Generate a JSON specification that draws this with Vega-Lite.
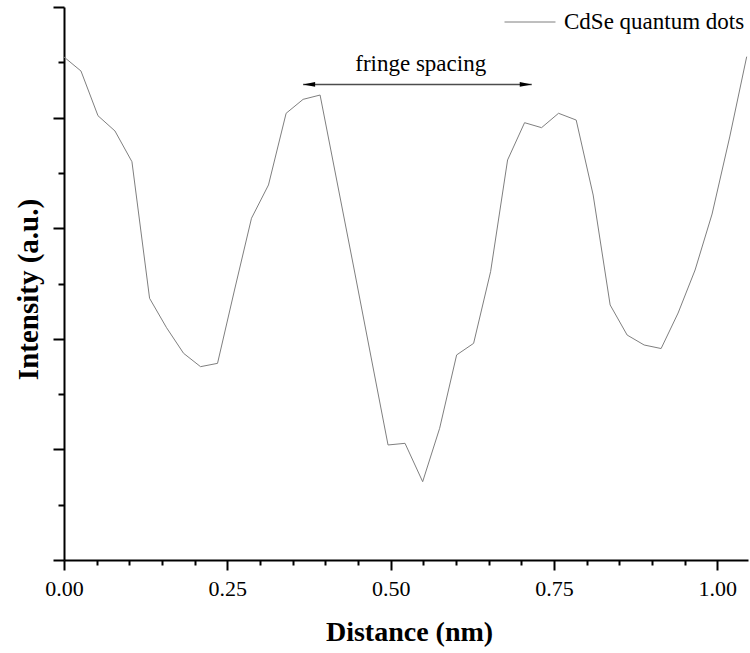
{
  "$schema": "https://vega.github.io/schema/vega-lite/v6.json",
  "width": 684,
  "height": 553,
  "autosize": {"type": "none"},
  "padding": {"left": 64, "top": 7, "right": 2, "bottom": 93},
  "background": "white",
  "config": {"view": {"stroke": null}, "font": "Liberation Serif"},
  "datasets": {
    "profile": [
      {"distance": 0.000, "intensity": 4.548, "series": "CdSe quantum dots"},
      {"distance": 0.026, "intensity": 4.421, "series": "CdSe quantum dots"},
      {"distance": 0.052, "intensity": 4.017, "series": "CdSe quantum dots"},
      {"distance": 0.078, "intensity": 3.879, "series": "CdSe quantum dots"},
      {"distance": 0.104, "intensity": 3.601, "series": "CdSe quantum dots"},
      {"distance": 0.131, "intensity": 2.366, "series": "CdSe quantum dots"},
      {"distance": 0.157, "intensity": 2.100, "series": "CdSe quantum dots"},
      {"distance": 0.183, "intensity": 1.869, "series": "CdSe quantum dots"},
      {"distance": 0.209, "intensity": 1.748, "series": "CdSe quantum dots"},
      {"distance": 0.235, "intensity": 1.778, "series": "CdSe quantum dots"},
      {"distance": 0.261, "intensity": 2.441, "series": "CdSe quantum dots"},
      {"distance": 0.287, "intensity": 3.090, "series": "CdSe quantum dots"},
      {"distance": 0.313, "intensity": 3.391, "series": "CdSe quantum dots"},
      {"distance": 0.340, "intensity": 4.039, "series": "CdSe quantum dots"},
      {"distance": 0.366, "intensity": 4.165, "series": "CdSe quantum dots"},
      {"distance": 0.392, "intensity": 4.204, "series": "CdSe quantum dots"},
      {"distance": 0.418, "intensity": 3.418, "series": "CdSe quantum dots"},
      {"distance": 0.444, "intensity": 2.631, "series": "CdSe quantum dots"},
      {"distance": 0.470, "intensity": 1.835, "series": "CdSe quantum dots"},
      {"distance": 0.496, "intensity": 1.040, "series": "CdSe quantum dots"},
      {"distance": 0.522, "intensity": 1.055, "series": "CdSe quantum dots"},
      {"distance": 0.549, "intensity": 0.708, "series": "CdSe quantum dots"},
      {"distance": 0.575, "intensity": 1.191, "series": "CdSe quantum dots"},
      {"distance": 0.601, "intensity": 1.854, "series": "CdSe quantum dots"},
      {"distance": 0.627, "intensity": 1.959, "series": "CdSe quantum dots"},
      {"distance": 0.653, "intensity": 2.607, "series": "CdSe quantum dots"},
      {"distance": 0.679, "intensity": 3.617, "series": "CdSe quantum dots"},
      {"distance": 0.705, "intensity": 3.954, "series": "CdSe quantum dots"},
      {"distance": 0.731, "intensity": 3.909, "series": "CdSe quantum dots"},
      {"distance": 0.757, "intensity": 4.039, "series": "CdSe quantum dots"},
      {"distance": 0.784, "intensity": 3.978, "series": "CdSe quantum dots"},
      {"distance": 0.810, "intensity": 3.300, "series": "CdSe quantum dots"},
      {"distance": 0.836, "intensity": 2.306, "series": "CdSe quantum dots"},
      {"distance": 0.862, "intensity": 2.034, "series": "CdSe quantum dots"},
      {"distance": 0.888, "intensity": 1.944, "series": "CdSe quantum dots"},
      {"distance": 0.914, "intensity": 1.912, "series": "CdSe quantum dots"},
      {"distance": 0.940, "intensity": 2.233, "series": "CdSe quantum dots"},
      {"distance": 0.966, "intensity": 2.622, "series": "CdSe quantum dots"},
      {"distance": 0.992, "intensity": 3.128, "series": "CdSe quantum dots"},
      {"distance": 1.019, "intensity": 3.825, "series": "CdSe quantum dots"},
      {"distance": 1.045, "intensity": 4.551, "series": "CdSe quantum dots"}
    ],
    "annotation": [
      {"label": "fringe spacing", "x_start": 0.366, "x_end": 0.716, "y_arrow": 4.30, "x_text": 0.546, "y_text": 4.42}
    ]
  },
  "resolve": {"axis": {"x": "independent", "y": "independent"}},
  "layer": [
    {
      "data": {"name": "profile"},
      "mark": {"type": "line", "strokeWidth": 1},
      "encoding": {
        "x": {
          "field": "distance",
          "type": "quantitative",
          "scale": {"domain": [0, 1.047], "nice": false, "zero": false},
          "axis": {
            "orient": "bottom",
            "values": [0, 0.25, 0.5, 0.75, 1.0],
            "format": ".2f",
            "title": "Distance (nm)",
            "titleFont": "Liberation Serif",
            "titleFontSize": 28,
            "titleFontWeight": "bold",
            "titleColor": "black",
            "titleX": 345,
            "titleY": 80,
            "titleAlign": "center",
            "titleBaseline": "alphabetic",
            "labelFont": "Liberation Serif",
            "labelFontSize": 22,
            "labelColor": "black",
            "labelOverlap": false,
            "labelFlush": false,
            "labelPadding": 8,
            "ticks": true,
            "tickSize": 10,
            "tickColor": "black",
            "tickWidth": 2,
            "domainColor": "black",
            "domainWidth": 2,
            "grid": false
          }
        },
        "y": {
          "field": "intensity",
          "type": "quantitative",
          "scale": {"domain": [0, 5], "nice": false, "zero": false},
          "axis": {
            "orient": "left",
            "values": [0, 1, 2, 3, 4, 5],
            "labels": false,
            "title": "Intensity (a.u.)",
            "titleFont": "Liberation Serif",
            "titleFontSize": 29,
            "titleFontWeight": "bold",
            "titleColor": "black",
            "titleAngle": -90,
            "titleX": -36,
            "titleY": 282,
            "titleAlign": "center",
            "titleBaseline": "middle",
            "tickSize": 11,
            "tickColor": "black",
            "tickWidth": 2,
            "domainColor": "black",
            "domainWidth": 2,
            "grid": false
          }
        },
        "color": {
          "field": "series",
          "type": "nominal",
          "scale": {"range": ["#7f7f7f"]},
          "legend": {
            "title": null,
            "orient": "none",
            "legendX": 440,
            "legendY": -11,
            "symbolType": "stroke",
            "symbolSize": 2600,
            "symbolStrokeWidth": 1,
            "labelFont": "Liberation Serif",
            "labelFontSize": 23,
            "labelColor": "black",
            "labelOffset": 8,
            "labelLimit": 400,
            "padding": 0
          }
        }
      }
    },
    {
      "data": {"name": "annotation"},
      "mark": {"type": "rule", "stroke": "#4d4d4d", "strokeWidth": 1.5},
      "encoding": {
        "x": {
          "field": "x_start",
          "type": "quantitative",
          "axis": {
            "orient": "bottom",
            "values": [0.05, 0.1, 0.15, 0.2, 0.3, 0.35, 0.4, 0.45, 0.55, 0.6, 0.65, 0.7, 0.8, 0.85, 0.9, 0.95],
            "labels": false,
            "title": null,
            "domain": false,
            "ticks": true,
            "tickSize": 5,
            "tickColor": "black",
            "tickWidth": 2,
            "grid": false
          }
        },
        "x2": {"field": "x_end"},
        "y": {
          "field": "y_arrow",
          "type": "quantitative",
          "axis": {
            "orient": "left",
            "values": [0.5, 1.5, 2.5, 3.5, 4.5],
            "labels": false,
            "title": null,
            "domain": false,
            "tickSize": 6,
            "tickColor": "black",
            "tickWidth": 2,
            "grid": false
          }
        }
      }
    },
    {
      "data": {"name": "annotation"},
      "mark": {"type": "point", "shape": "M 0 0 L 2 -0.4 L 2 0.4 Z", "filled": true, "color": "black", "opacity": 1, "size": 144},
      "encoding": {
        "x": {"field": "x_start", "type": "quantitative", "axis": null},
        "y": {"field": "y_arrow", "type": "quantitative", "axis": null}
      }
    },
    {
      "data": {"name": "annotation"},
      "mark": {"type": "point", "shape": "M 0 0 L -2 -0.4 L -2 0.4 Z", "filled": true, "color": "black", "opacity": 1, "size": 144},
      "encoding": {
        "x": {"field": "x_end", "type": "quantitative", "axis": null},
        "y": {"field": "y_arrow", "type": "quantitative", "axis": null}
      }
    },
    {
      "data": {"name": "annotation"},
      "mark": {"type": "text", "font": "Liberation Serif", "fontSize": 23, "align": "center", "baseline": "alphabetic", "color": "black"},
      "encoding": {
        "x": {"field": "x_text", "type": "quantitative", "axis": null},
        "y": {"field": "y_text", "type": "quantitative", "axis": null},
        "text": {"field": "label"}
      }
    }
  ]
}
